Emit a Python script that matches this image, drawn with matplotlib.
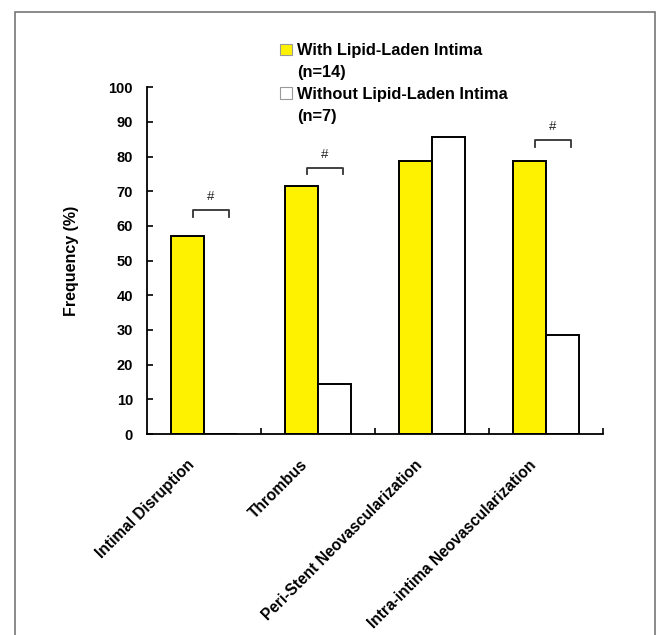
import numpy as np
import matplotlib
matplotlib.use("Agg")
import matplotlib.pyplot as plt
from matplotlib.patches import Patch, Rectangle
from matplotlib.transforms import ScaledTranslation

plt.rcParams["font.family"] = ["Liberation Sans", "DejaVu Sans"]
plt.rcParams["font.weight"] = "bold"

categories = ["Intimal Disruption", "Thrombus", "Peri-Stent Neovascularization",
              "Intra-intima Neovascularization"]
with_lipid = [57.1, 71.4, 78.6, 78.6]
without_lipid = [0.0, 14.3, 85.7, 28.6]
bracket_tops = [64.6, 76.8, None, 84.8]
legend_labels = ["With Lipid-Laden Intima", "(n=14)", "Without Lipid-Laden Intima", "(n=7)"]
yticks = [0, 10, 20, 30, 40, 50, 60, 70, 80, 90, 100]

fig = plt.figure(figsize=(6.59, 6.35), dpi=100)
ax = fig.add_axes([147 / 659, 1 - 434 / 635, 456 / 659, 346.7 / 635])

x = np.arange(len(categories))
w = 0.29
ax.bar(x - w / 2, with_lipid, w, color="#fff200", edgecolor="black", linewidth=1.4)
ax.bar(x + w / 2, without_lipid, w, color="white", edgecolor="black", linewidth=1.4)

# significance brackets
for xi, top in zip(x, bracket_tops):
    if top is None:
        continue
    x0, x1 = xi - w / 2 + 0.05, xi + w / 2 + 0.07
    ax.plot([x0, x0, x1, x1], [top - 1.9, top, top, top - 1.9], color="#333333", lw=1.3,
            clip_on=False)
    ax.text((x0 + x1) / 2, top + 3.8, "#", ha="center", va="center", fontsize=9.5,
            fontweight="normal", color="#222222")

ax.set_xlim(-0.5, 3.5)
ax.set_ylim(0, 100)
ax.set_yticks(yticks)
ax.tick_params(axis="y", direction="in", length=4, width=1.2, pad=10, labelsize=10.5)
ax.set_xticks(x)
ax.set_xticklabels(categories, rotation=45, ha="right", va="top", fontsize=11.2)
ax.tick_params(axis="x", which="major", length=0, pad=16.6)
ax.set_xticks(x + 0.5, minor=True)
ax.tick_params(axis="x", which="minor", direction="in", length=4, width=1.2)
shift = ScaledTranslation(-7 / 100, 0, fig.dpi_scale_trans)
for lab in ax.get_xticklabels():
    lab.set_transform(lab.get_transform() + shift)

for s in ["top", "right"]:
    ax.spines[s].set_visible(False)
for s in ["left", "bottom"]:
    ax.spines[s].set_linewidth(1.3)

ax.set_ylabel("Frequency (%)", fontsize=11.5, fontweight="bold", labelpad=21)

handles = [Patch(facecolor="#fff200", edgecolor="#999999", linewidth=0.8),
           Patch(facecolor="none", edgecolor="none"),
           Patch(facecolor="white", edgecolor="#999999", linewidth=0.8),
           Patch(facecolor="none", edgecolor="none")]
fig.legend(handles, legend_labels, loc="upper left", bbox_to_anchor=(280 / 659, 1 - 43 / 635),
           frameon=False, fontsize=11.8, handlelength=0.75, handleheight=0.7,
           handletextpad=0.3, labelspacing=0.42, borderpad=0, borderaxespad=0)

fig.add_artist(Rectangle((15 / 659, -0.05), 640 / 659, 1.05 - 12 / 635, transform=fig.transFigure,
                         fill=False, edgecolor="#777777", linewidth=1.2))

fig.savefig("out.png", dpi=100)
